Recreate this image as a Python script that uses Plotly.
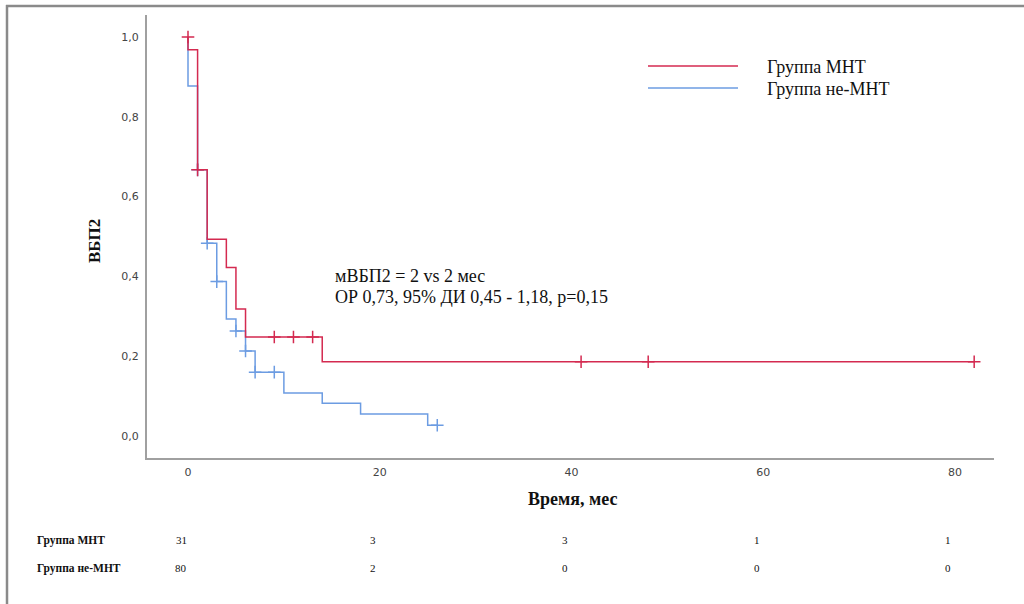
import plotly.graph_objects as go

# ---- data ----
mht_t = [0, 0, 1, 2, 4, 5, 6, 14, 82]
mht_s = [1.0, 0.968, 0.667, 0.493, 0.422, 0.318, 0.248, 0.186, 0.186]
mht_cens_t = [0, 1, 9, 11, 13, 41, 48, 82]
mht_cens_s = [1.0, 0.667, 0.248, 0.248, 0.248, 0.186, 0.186, 0.186]

non_t = [0, 0, 1, 2, 3, 4, 5, 6, 7, 10, 14, 18, 25, 26]
non_s = [1.0, 0.877, 0.667, 0.483, 0.387, 0.293, 0.263, 0.213, 0.160, 0.108, 0.082, 0.055, 0.027, 0.027]
non_cens_t = [1, 2, 3, 5, 6, 7, 9, 26]
non_cens_s = [0.667, 0.483, 0.387, 0.263, 0.213, 0.160, 0.160, 0.027]

x_ticks = [0, 20, 40, 60, 80]
y_ticks = [0.0, 0.2, 0.4, 0.6, 0.8, 1.0]
risk_times = [0, 20, 40, 60, 80]
risk_mht = [31, 3, 3, 1, 1]
risk_non = [80, 2, 0, 0, 0]
group_names = ["Группа МНТ", "Группа не-МНТ"]
stat_lines = ["мВБП2 = 2 vs 2 мес", "ОР 0,73, 95% ДИ 0,45 - 1,18, p=0,15"]

RED = "#d42a50"
BLUE = "#6c9ce2"

fig = go.Figure()
fig.add_trace(go.Scatter(x=non_t, y=non_s, mode="lines", line=dict(color=BLUE, width=1.5, shape="hv"),
                         showlegend=False, hoverinfo="skip"))
fig.add_trace(go.Scatter(x=non_cens_t, y=non_cens_s, mode="markers",
                         marker=dict(symbol="cross-thin", size=9, line=dict(color=BLUE, width=1.5)),
                         showlegend=False))
fig.add_trace(go.Scatter(x=mht_t, y=mht_s, mode="lines", line=dict(color=RED, width=1.5, shape="hv"),
                         showlegend=False, hoverinfo="skip"))
fig.add_trace(go.Scatter(x=mht_cens_t, y=mht_cens_s, mode="markers",
                         marker=dict(symbol="cross-thin", size=9, line=dict(color=RED, width=1.5)),
                         showlegend=False))

# pixel helpers for the plot area
L, R, T, B = 147, 994, 15, 458
W, H = R - L, B - T
def px(xp):
    return (xp - L) / W
def py(yp):
    return (B - yp) / H

x0_px, x80_px = 188, 955
xs = (x80_px - x0_px) / 80.0
xr = [-(x0_px - L) / xs, 80 + (R - x80_px) / xs]
y1_px, y0_px = 37, 436
ys = (y0_px - y1_px)
yr = [-(B - y0_px) / ys, 1 + (y1_px - T) / ys]

serif = "Liberation Serif"
ann = []
# statistics text
for i, line in enumerate(stat_lines):
    ann.append(dict(x=px(333), y=py(276 + 21 * i), xref="paper", yref="paper", xanchor="left", yanchor="middle",
                    text=line, showarrow=False, font=dict(family=serif, size=18, color="#111")))
# legend
shapes = []
for i, (nm, col) in enumerate(zip(group_names, [RED, BLUE])):
    yy = 66 + 22 * i
    shapes.append(dict(type="line", xref="paper", yref="paper", x0=px(648), x1=px(738), y0=py(yy), y1=py(yy),
                       line=dict(color=col, width=1.5)))
    ann.append(dict(x=px(765), y=py(yy + 1), xref="paper", yref="paper", xanchor="left", yanchor="middle",
                    text=nm, showarrow=False, font=dict(family=serif, size=18, color="#111")))
# axis titles
ann.append(dict(x=px(95), y=py(241), xref="paper", yref="paper", xanchor="center", yanchor="middle",
                text="<b>ВБП2</b>", textangle=-90,
                showarrow=False, font=dict(family=serif, size=17, color="#111")))
ann.append(dict(x=px(572), y=py(499), xref="paper", yref="paper", xanchor="center", yanchor="middle",
                text="<b>Время, мес</b>",
                showarrow=False, font=dict(family=serif, size=18, color="#111")))
# risk table
for row, (nm, vals) in enumerate(zip(group_names, [risk_mht, risk_non])):
    yy = 540 + 28 * row
    ann.append(dict(x=px(35), y=py(yy), xref="paper", yref="paper", xanchor="left", yanchor="middle",
                    text="<b>" + nm + "</b>", showarrow=False, font=dict(family=serif, size=11.5, color="#111")))
    for t, v in zip(risk_times, vals):
        ann.append(dict(x=t - 0.7, y=py(yy), xref="x", yref="paper", xanchor="center", yanchor="middle",
                        text=str(v), showarrow=False, font=dict(family=serif, size=11, color="#111")))
# outer frame
shapes.append(dict(type="line", xref="paper", yref="paper", x0=px(6), x1=px(1030), y0=py(6), y1=py(6),
                   line=dict(color="#8a8a8a", width=2.5)))
shapes.append(dict(type="line", xref="paper", yref="paper", x0=px(7), x1=px(7), y0=py(5), y1=py(610),
                   line=dict(color="#8a8a8a", width=2.5)))

fig.update_layout(
    width=1024, height=604,
    margin=dict(l=L, r=1024 - R, t=T, b=604 - B),
    paper_bgcolor="white", plot_bgcolor="white",
    separators=", ",
    annotations=ann, shapes=shapes,
    xaxis=dict(range=xr, tickvals=x_ticks, showgrid=False, zeroline=False, showline=True,
               linecolor="#a0a0a0", linewidth=2, ticks="", ticklabelstandoff=3,
               tickfont=dict(family="DejaVu Sans", size=11, color="#444")),
    yaxis=dict(range=yr, tickvals=y_ticks, tickformat=".1f", showgrid=False, zeroline=False, showline=True,
               linecolor="#a0a0a0", linewidth=2, ticks="", ticklabelstandoff=4,
               tickfont=dict(family="DejaVu Sans", size=11, color="#444")),
)
fig.write_html("out.html")
